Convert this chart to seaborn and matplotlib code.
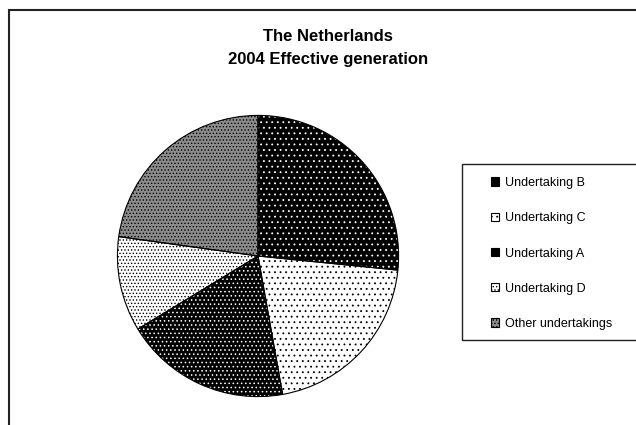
import matplotlib
matplotlib.use("Agg")
import matplotlib.pyplot as plt
import matplotlib.patches as mpatches
import seaborn as sns

# data (shares of effective generation, %)
labels = ["Undertaking B", "Undertaking C", "Undertaking A", "Undertaking D", "Other undertakings"]
shares = [26.6, 20.6, 19.1, 10.9, 22.8]

# fill patterns (face colour, dot colour, hatch)
face_colors = ["black", "white", "black", "white", "#8c8c8c"]
dot_colors = ["white", "black", "white", "black", "black"]
hatches = ["...", "...", "....", ".....", "....."]

sns.set_theme(style="white")
plt.rcParams["font.family"] = ["Liberation Sans", "DejaVu Sans"]
plt.rcParams["hatch.linewidth"] = 0.6

fig = plt.figure(figsize=(6.36, 4.25), dpi=100)
fig.patch.set_facecolor("white")

# outer chart frame (right and bottom edges run off the picture)
fig.patches.append(mpatches.Rectangle((9 / 636, -0.1), 1.2, 1 - 10 / 425 + 0.1,
                                      transform=fig.transFigure, fill=False,
                                      edgecolor="#222222", linewidth=1.5))

# pie area
ax = fig.add_axes([116 / 636, 27 / 425, 284 / 636, 284 / 425])

# first pass: fills + dot hatching (hatch uses the edge colour)
wedges, _ = ax.pie(shares, startangle=90, counterclock=False, colors=face_colors,
                   wedgeprops=dict(linewidth=0))
for w, dc, h in zip(wedges, dot_colors, hatches):
    w.set_edgecolor(dc)
    w.set_hatch(h)

# second pass: black outlines
outline, _ = ax.pie(shares, startangle=90, counterclock=False,
                    wedgeprops=dict(fill=False, edgecolor="black", linewidth=0.8))
ax.set_xlim(-1.01, 1.01)
ax.set_ylim(-1.01, 1.01)
ax.set_aspect("equal")
ax.axis("off")

# title
fig.text(328 / 636, 1 - 48 / 425, "The Netherlands\n2004 Effective generation",
         ha="center", va="center", fontsize=12, fontweight="bold", color="black",
         linespacing=1.68)

# legend box (runs off the right edge)
fig.patches.append(mpatches.Rectangle((462 / 636, 1 - 340 / 425), 0.5, 176 / 425,
                                      transform=fig.transFigure, fill=False,
                                      edgecolor="#222222", linewidth=1.0))

# legend keys: small outlined squares with the slice patterns
handles = [mpatches.Patch(facecolor=fc, edgecolor="black", hatch=h, linewidth=0.8)
           for fc, h in zip(face_colors, hatches)]
fig.legend(handles, labels, loc="upper left", bbox_to_anchor=(491 / 636, 1 - 177 / 425),
           frameon=False, fontsize=9, borderpad=0, borderaxespad=0,
           labelspacing=1.86, handlelength=0.64, handleheight=0.64,
           handletextpad=0.45, labelcolor="black")

fig.savefig("out.png", dpi=100)
